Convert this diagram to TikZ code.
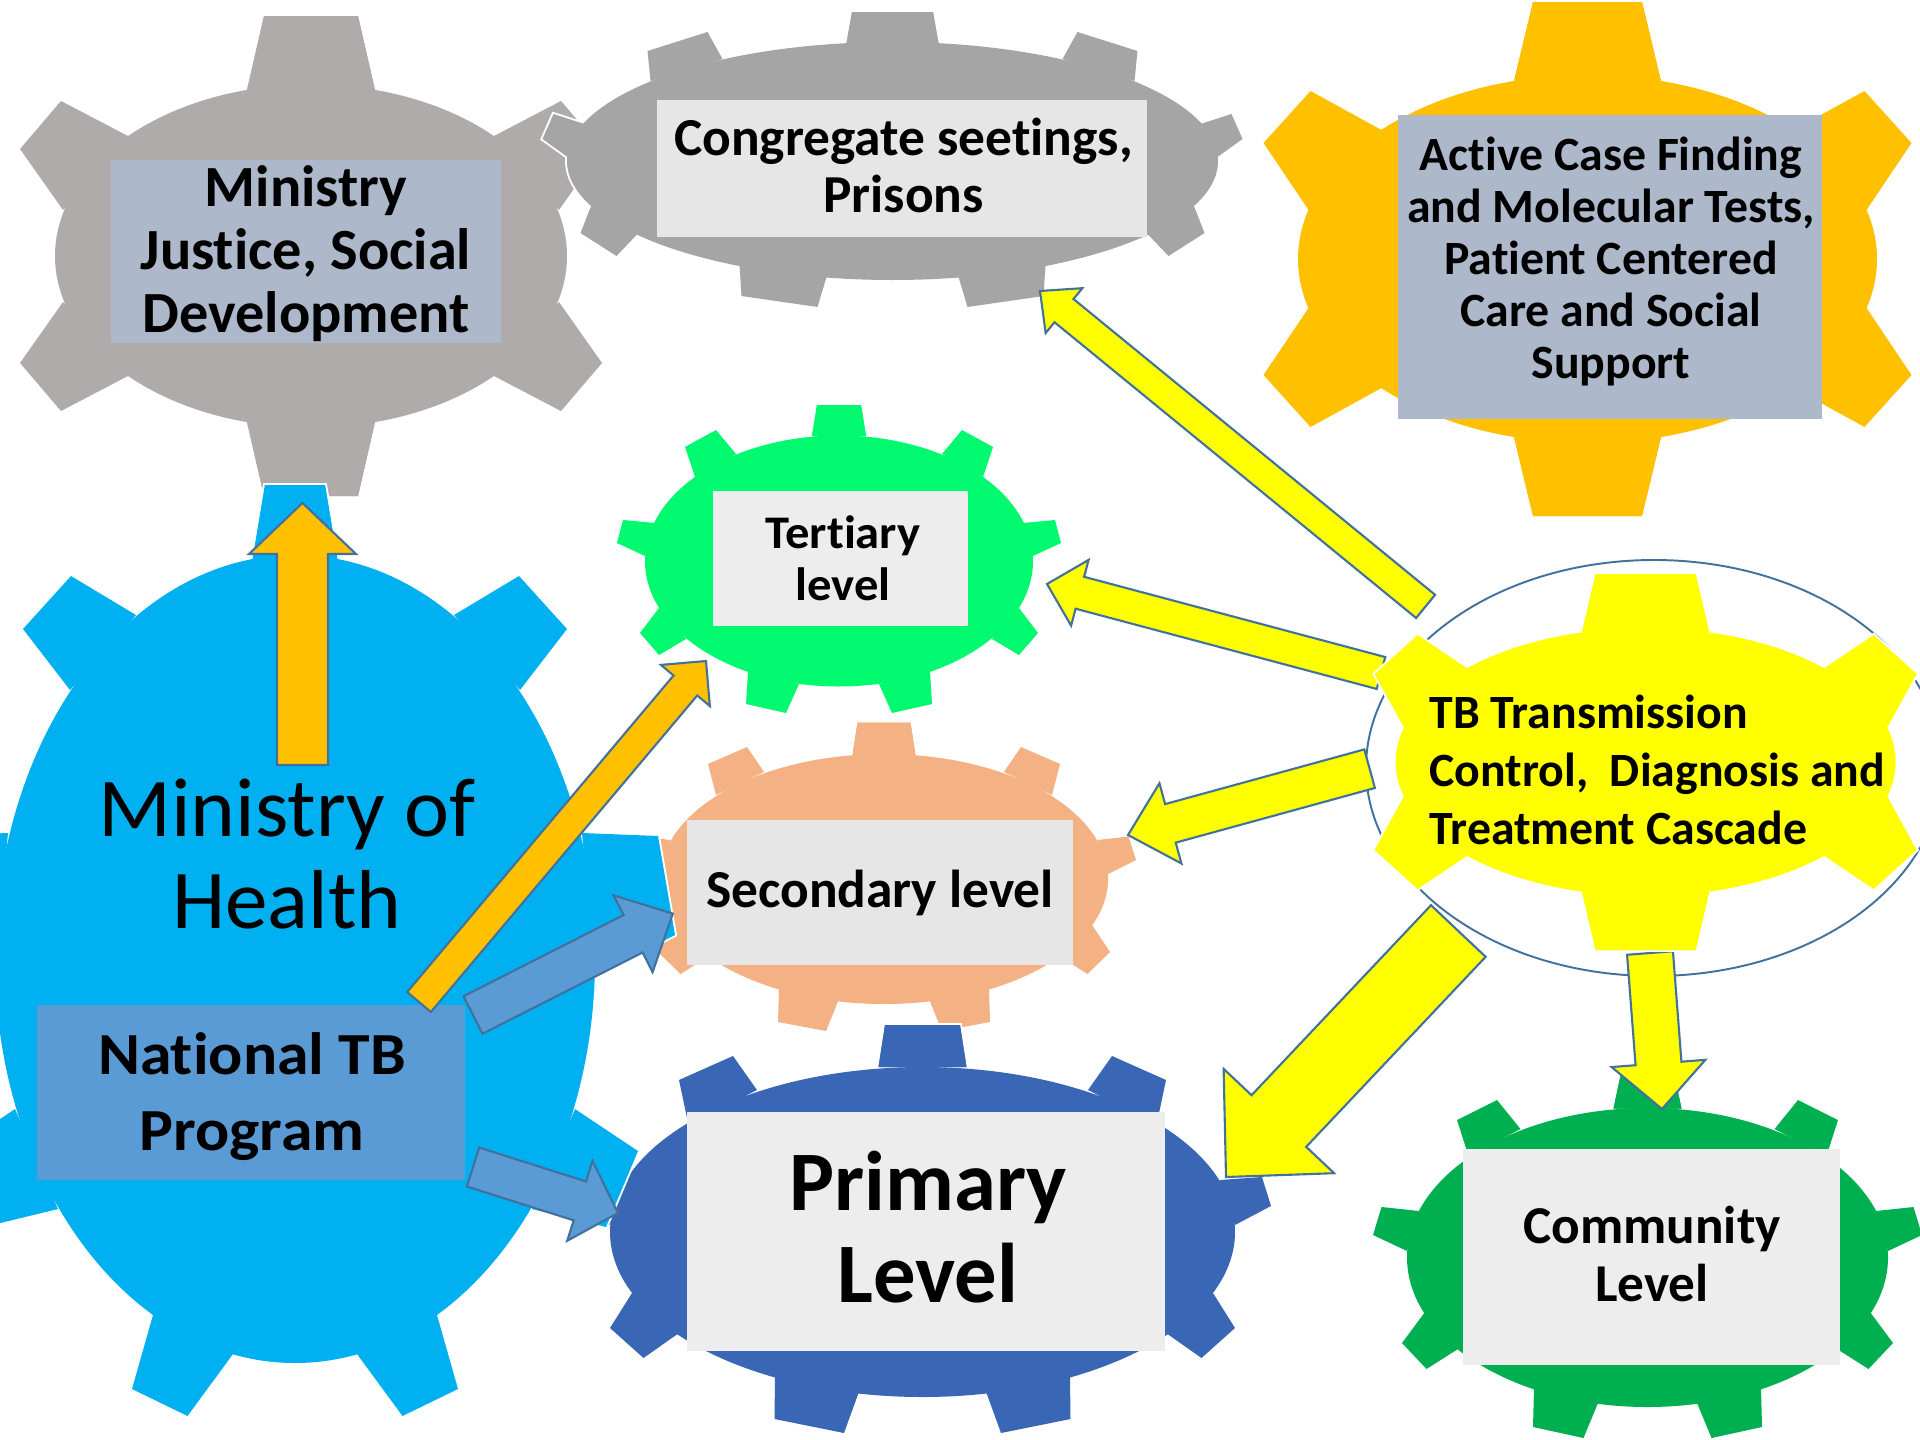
\documentclass[tikz,border=0pt]{standalone}
\usepackage{fontspec}
\setmainfont{Carlito}[Ligatures=NoCommon]
\usetikzlibrary{calc}

\definecolor{justicegray}{HTML}{AFABAB}
\definecolor{prisongray}{HTML}{A5A5A5}
\definecolor{amber}{HTML}{FFC000}
\definecolor{skyblue}{HTML}{00B0F0}
\definecolor{tertiarygreen}{HTML}{00F96F}
\definecolor{salmon}{HTML}{F4B183}
\definecolor{primaryblue}{HTML}{3A67B5}
\definecolor{communitygreen}{HTML}{00B050}
\definecolor{tbyellow}{HTML}{FFFF00}
\definecolor{slate}{HTML}{ADB9CA}
\definecolor{lightbox}{HTML}{EDEDED}
\definecolor{midbox}{HTML}{E6E6E6}
\definecolor{tbblue}{HTML}{5B9BD5}
\definecolor{arrowline}{HTML}{41719C}

\tikzset{
  gearedge/.style={draw=white,line width=2.2pt},
  gearfill/.style={fill=#1},
  levelbox/.style={inner sep=0pt,outer sep=0pt},
  levelname/.style={inner sep=0pt,align=center,font=\bfseries},
  blockline/.style={draw=arrowline,line width=1.2pt,line join=miter,fill=#1}
}

% colour, centre x, centre y, radius x, radius y, teeth of one half
\newcommand{\gear}[6]{
  \foreach \gearstyle in {gearedge,gearfill}{
    \begin{scope}[shift={(#2,#3)}]
      \path[\gearstyle=#1] (0,0) ellipse (#4 and #5);
      \foreach \sx in {1,-1}
        \foreach \xa/\ya/\xb/\yb/\xc/\yc/\xd/\yd in {#6}
          \path[\gearstyle=#1,xscale=\sx] (\xa,\ya) -- (\xb,\yb) -- (\xc,\yc) -- (\xd,\yd) -- cycle;
    \end{scope}
  }
}

% colour, tail, tip, half shaft, half head, head length
\newcommand{\blockarrow}[6]{
  \coordinate (neck) at ($(#3)!#6*0.02cm!(#2)$);
  \draw[blockline=#1] ($(#2)!#4*0.02cm!90:(#3)$) -- ($(neck)!#4*0.02cm!90:(#3)$)
    -- ($(neck)!#5*0.02cm!90:(#3)$) -- (#3) -- ($(neck)!#5*0.02cm!-90:(#3)$)
    -- ($(neck)!#4*0.02cm!-90:(#3)$) -- ($(#2)!#4*0.02cm!-90:(#3)$) -- cycle;
}

\begin{document}
\begin{tikzpicture}[x=0.02cm,y=-0.02cm]
  \useasboundingbox (0,0) rectangle (1920,1440);
  \clip (0,0) rectangle (1920,1440);

  % gears, back to front
  \gear{justicegray}{311}{256}{256}{171.5}{-47/-240/47/-240/64/-166/-64/-166,
    -250/-155/-291/-107/-248/-46/-183/-120, -250/155/-291/107/-248/46/-183/120, -47/240/47/240/64/166/-64/166}
  \gear{prisongray}{892.5}{161}{325.5}{119}{-40.5/-149/40.5/-149/46/-118/-46/-118,
    -245/-110/-185/-129/-170/-102/-242/-80, -339/-47/-350/-22/-325/-4/-308/-37,
    -301/44/-312/72/-276/95/-255/73, -153/104/-151/135/-75/146/-66/116}
  \gear{amber}{1587.5}{259}{289.5}{184}{-54.5/-257/54.5/-257/73.5/-178/-73.5/-178,
    -277/-168/-324/-116/-279/-49/-206/-129, -277/168/-324/116/-279/49/-206/129, -54.5/257/54.5/257/73.5/178/-73.5/178}
  \gear{tertiarygreen}{839}{561}{194}{125.5}{-22/-156/22/-156/27/-125/-27/-125,
    -154/-114/-123/-131/-103/-107/-144/-84, -216/-41/-222/-18/-194/-5/-184/-38,
    -180/47/-199/72/-180/94/-153/78, -91/111/-93/143/-53/152/-40/123}
  \gear{salmon}{884}{879}{224}{125}{-26.5/-156.5/26.5/-156.5/31.5/-124/-31.5/-124,
    -137/-132/-176/-115/-168/-84/-120/-107, -213.5/-39/-244.5/-42.5/-252/-19/-224/-5,
    -208/46/-226/73/-203.5/95/-175/77, -105/110/-106/143/-58/152/-46/122.5}
  \gear{primaryblue}{922.5}{1232}{312.5}{165}{-37.5/-207/37.5/-207/44/-165/-44/-165,
    -243.5/-152/-189.5/-176/-165.5/-142/-234/-107, -297/-52/-339.5/-55/-348.5/-26/-312.5/-7,
    -290.5/61/-312.5/96/-279/126/-243.5/101, -147.5/145/-148/187/-78.5/201/-64/161}
  \gear{skyblue}{295}{959}{300}{404}{-30/-474/30/-474/42.5/-399/-42.5/-399,
    -224/-383/-272/-330/-225/-269/-159/-344, -287/-126/-363/-123/-380/-24/-300/17,
    -280/150/-343/192/-311/268/-237/250, -142/356/-163/430/-107.5/457/-62/395}
  \gear{communitygreen}{1647.5}{1257.5}{240.5}{149.5}{-27/-182/27/-182/34/-149/-34/-149,
    -190.5/-137.5/-150.5/-157.5/-127/-128.5/-179/-101.5, -266/-50.5/-274.5/-22.5/-240.5/-6.5/-228.5/-46.5,
    -222.5/54.5/-245.5/85.5/-221/111.5/-189.5/91.5, -113.5/130.5/-114.5/169.5/-64/180.5/-49.5/145.5}

  % boxes with their labels
  \node[levelbox,fill=slate,minimum width=390*0.02cm,minimum height=183*0.02cm] (justicebox) at (306,251.5) {};
  \node[levelname,font=\fontsize{33.2}{36}\selectfont\bfseries] (justice) at (306,253.5) {Ministry\\Justice, Social\\Development};
  \node[levelbox,fill=midbox,minimum width=490*0.02cm,minimum height=137*0.02cm] (prisonbox) at (902,168.5) {};
  \node[levelname,font=\fontsize{30.4}{32.9}\selectfont\bfseries] (prison) at (903.5,165.5) {Congregate seetings,\\Prisons};
  \node[levelbox,fill=slate,minimum width=424*0.02cm,minimum height=304*0.02cm] (casebox) at (1610,267) {};
  \node[levelname,font=\fontsize{27.2}{29.7}\selectfont\bfseries] (case) at (1611,261.5) {Active Case Finding\\and Molecular Tests,\\Patient Centered\\Care and Social\\Support};
  \node[levelbox,fill=lightbox,minimum width=255*0.02cm,minimum height=135*0.02cm] (tertiarybox) at (840.5,558.5) {};
  \node[levelname,xscale=1.04,font=\fontsize{26.6}{29.8}\selectfont\bfseries] (tertiary) at (843,558) {Tertiary\\level};
  \node[levelbox,fill=midbox,minimum width=386*0.02cm,minimum height=145*0.02cm] (secondarybox) at (880,892.5) {};
  \node[levelname,font=\fontsize{30.4}{32.9}\selectfont\bfseries] (secondary) at (880,893) {Secondary level};
  \node[levelbox,fill=lightbox,minimum width=478*0.02cm,minimum height=239*0.02cm] (primarybox) at (926,1231.5) {};
  \node[levelname,font=\fontsize{48.2}{52.2}\selectfont\bfseries] (primary) at (928,1227) {Primary\\Level};
  \node[levelbox,fill=lightbox,minimum width=377*0.02cm,minimum height=216*0.02cm] (communitybox) at (1651.5,1257) {};
  \node[levelname,font=\fontsize{30.3}{32.9}\selectfont\bfseries] (community) at (1652,1254) {Community\\Level};
  \node[levelbox,fill=tbblue,minimum width=428*0.02cm,minimum height=175*0.02cm] (programbox) at (251,1092.5) {};
  \node[levelname,xscale=1.067,font=\fontsize{34}{43.6}\selectfont\bfseries] (program) at (252,1096.5) {National TB\\Program};
  \node[inner sep=0pt,align=center,xscale=1.02,font=\fontsize{47.6}{52.2}\selectfont] (health) at (287,854) {Ministry of\\Health};

  % ring behind the yellow gear
  \draw[arrowline,line width=1.1pt] (1654,768) ellipse (288 and 208);

  % arrows
  \coordinate (healthtail) at (302.5,765);
  \coordinate (justicetip) at (302.5,503);
  \coordinate (programtop) at (419,1002);
  \coordinate (tertiarytip) at (706,661);
  \coordinate (programright) at (473,1015);
  \coordinate (secondarytip) at (672.8,913.6);
  \coordinate (programlow) at (473,1167);
  \coordinate (primarytip) at (618,1213);
  \coordinate (tbtop) at (1425.6,606.4);
  \coordinate (prisontip) at (1040,291);
  \coordinate (tbupper) at (1381,673);
  \coordinate (tertiaryright) at (1047,584);
  \coordinate (tbleft) at (1369.6,768.7);
  \coordinate (secondaryright) at (1128,835);
  \coordinate (tblower) at (1458.3,931);
  \coordinate (primaryright) at (1226,1177);
  \coordinate (tbbottom) at (1650,953);
  \coordinate (communitytip) at (1662,1109);

  \blockarrow{amber}{healthtail}{justicetip}{25.5}{53.5}{51}
  \blockarrow{amber}{programtop}{tertiarytip}{15.5}{32}{32}
  \blockarrow{tbblue}{programright}{secondarytip}{21}{43}{44.5}
  \blockarrow{tbblue}{programlow}{primarytip}{20.4}{41.8}{40}
  \blockarrow{tbyellow}{tbtop}{prisontip}{15}{29}{31}
  \blockarrow{tbyellow}{tbupper}{tertiaryright}{16.5}{34}{34}
  \blockarrow{tbyellow}{tbleft}{secondaryright}{20}{41.6}{44}
  \blockarrow{tbyellow}{tblower}{primaryright}{37.6}{76}{77}
  \blockarrow{tbyellow}{tbbottom}{communitytip}{23}{47}{45.7}

  \gear{tbyellow}{1645.6}{762}{250}{134}{-50/-188/50/-188/63.5/-130/-63.5/-130,
    -228/-127/-271/-88/-242/-35/-179/-94, -228/127/-271/88/-242/35/-179/94, -50/188/50/188/63.5/130/-63.5/130}
  \node[levelname,align=left,anchor=west,font=\fontsize{27.2}{32.9}\selectfont\bfseries] (tb) at (1429,770) {TB Transmission\\Control,\ \ Diagnosis and\\Treatment Cascade};
\end{tikzpicture}
\end{document}
